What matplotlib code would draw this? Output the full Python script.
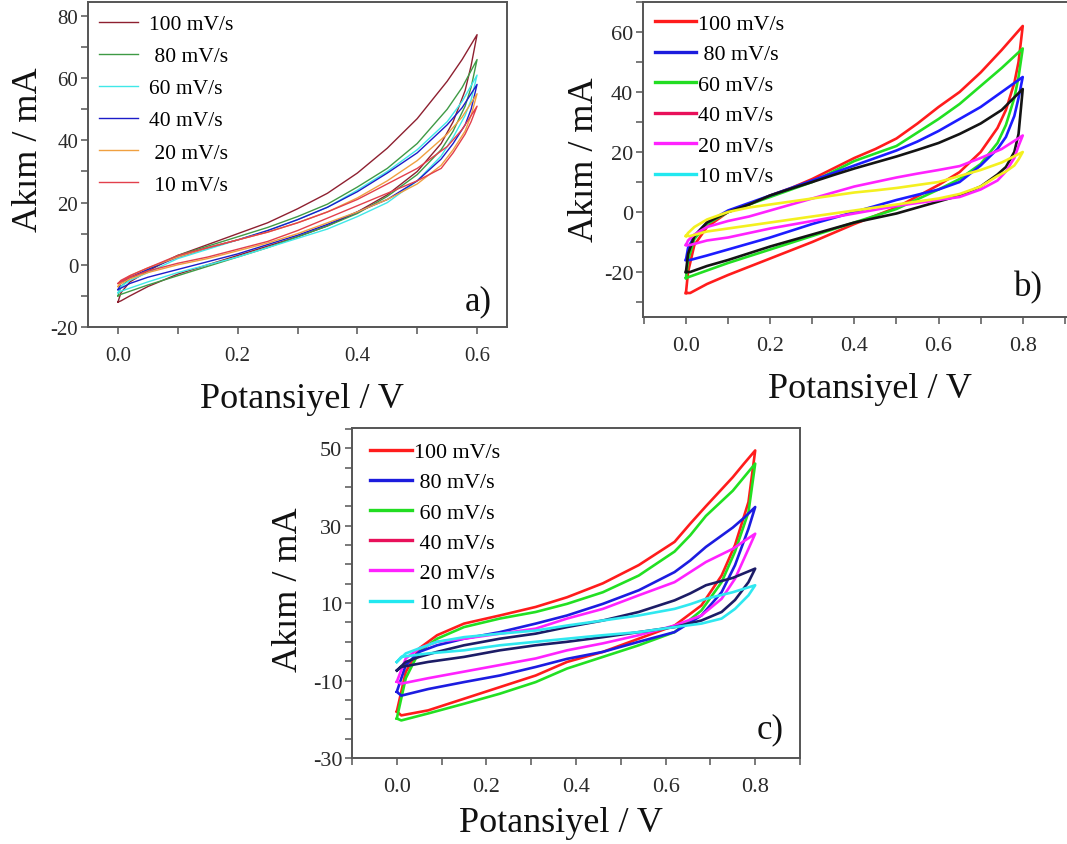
import numpy as np
import matplotlib
matplotlib.use("Agg")
import matplotlib.pyplot as plt
from matplotlib.lines import Line2D
from matplotlib.ticker import MultipleLocator

plt.rcParams['font.family'] = ['Liberation Serif', 'DejaVu Serif']

#   Scan rates shown in every legend
rates = ["100 mV/s", " 80 mV/s", "60 mV/s", "40 mV/s", " 20 mV/s", " 10 mV/s"]

### Panel a) : potential 0 - 0.6 V
a_x_up = [0.0, 0.005, 0.02, 0.05, 0.1, 0.15, 0.2, 0.25, 0.3, 0.35, 0.4, 0.45, 0.5, 0.55, 0.575, 0.6]
a_x_down = [0.6, 0.59, 0.58, 0.56, 0.54, 0.5, 0.45, 0.4, 0.35, 0.3, 0.25, 0.2, 0.15, 0.1, 0.05, 0.02, 0.005]
a_up = [
    [-12, -9, -5.5, -2, 3, 6.5, 10, 13.5, 18, 23, 29.5, 37.5, 47, 59, 66, 74],
    [-10, -7, -4.5, -1.5, 3, 6, 9, 12, 15.5, 19.5, 25, 31, 39, 50, 57, 66],
    [-9, -7, -5, -2.5, 2, 5, 8, 11, 14.5, 18.5, 24, 30, 37, 46, 52.5, 61],
    [-8, -6, -4, -1.5, 2.5, 5.5, 8, 11, 14.5, 18.5, 23.5, 29.5, 36, 45, 50.5, 58],
    [-7, -5.5, -3.5, -1, 2.5, 5.5, 8, 10.5, 13.5, 17, 21.5, 27, 33.5, 42, 47.5, 55],
    [-6, -5, -3.5, -1, 3, 5.5, 8, 10.5, 13.5, 17, 21, 26, 31, 38, 43.5, 51],
]
a_down = [
    [74, 64, 56, 46, 39, 30, 22.5, 17, 12.5, 9, 6, 3, 0, -3, -7, -10, -11.6],
    [66, 57, 51, 43, 37, 29, 22, 16.5, 12.5, 9, 5.5, 2.5, -0.5, -3.5, -6.5, -8.5, -9.5],
    [61, 53, 48, 41, 35, 27, 20, 15.5, 11.5, 8.5, 5.5, 2.5, 0, -2.5, -5.5, -7.5, -8.5],
    [58, 50, 45, 39, 34, 27, 21, 17, 13, 9.5, 6.5, 3.5, 1, -1.5, -4, -6, -7.5],
    [55, 48, 43, 37, 32, 26, 21, 17, 13.5, 10, 7, 4.5, 2, 0, -2.5, -4.5, -6],
    [51, 46, 42, 36, 31, 27, 23, 19, 15, 11, 7.5, 5, 2.5, 0.5, -2, -4, -5.5],
]
a_colors = ["#8e2030", "#3f9a45", "#40e8e8", "#1c1cc8", "#f0a040", "#e2404c"]

### Panel b) : potential 0 - 0.8 V
b_x_up = [0.0, 0.005, 0.02, 0.05, 0.1, 0.15, 0.2, 0.25, 0.3, 0.35, 0.4, 0.45, 0.5, 0.55,
          0.6, 0.65, 0.7, 0.75, 0.8]
b_x_down = [0.8, 0.79, 0.78, 0.76, 0.74, 0.7, 0.65, 0.6, 0.5, 0.4, 0.3, 0.2, 0.1, 0.05, 0.01]
b_up = [
    [-27, -20, -11, -5, 0, 2.5, 5.5, 8, 11, 14.5, 18, 21, 24.5, 29.5, 35, 40, 46.5, 54, 62],
    [-22, -16, -9, -4, 0, 2.5, 5, 7.5, 10, 13.5, 17, 19.5, 22, 26.5, 31, 36, 42, 48, 54.5],
    [-16, -12, -8, -3.5, 0.5, 3, 5.5, 8, 10.5, 13, 15.5, 18, 20.5, 23.5, 27, 31, 35, 40, 45],
    [-20, -14, -8, -3.5, 0, 2.5, 5.5, 7.8, 10, 12.3, 14.5, 16.5, 18.5, 20.7, 23, 26, 29.5, 34, 41],
    [-11, -9.5, -7.5, -5, -3, -1.5, 0.5, 2.5, 4.5, 6.5, 8.5, 10, 11.5, 12.8, 14, 15.3, 18, 21, 25.5],
    [-8, -7, -5, -2.5, 0, 1.5, 2.5, 3.5, 4.5, 5.5, 6.5, 7.2, 8, 9, 10, 12, 14, 16.5, 20],
]
b_down = [
    [62, 50, 43, 34, 28, 20, 13.3, 9, 1.5, -4, -10, -15.5, -21, -24, -27],
    [54.5, 45, 38, 29, 23, 16, 11, 7.5, 1, -3.5, -8, -12.5, -17, -19.5, -21.5],
    [45, 38, 32, 25, 21, 15.5, 10, 7.5, 4, 0, -4, -8.5, -12.5, -14.5, -16],
    [41, 26, 20, 15, 12.5, 8.5, 5.5, 3.5, -0.5, -3.5, -7.5, -11.5, -16, -18, -20],
    [25.5, 22, 18, 13.5, 10.5, 7.5, 5, 4, 2, -0.5, -3, -5.5, -8.5, -9.5, -11],
    [20, 17.5, 15.5, 13.5, 12, 8.5, 6, 4.5, 2.5, 0.5, -1.5, -3.5, -5.5, -6.5, -8],
]
b_colors = ["#ff1c1c", "#22e022", "#1c1cff", "#141414", "#ff22ff", "#f4f020"]
b_legend_colors = ["#ff1c1c", "#1c1cdd", "#22dd22", "#e8105a", "#ff22ff", "#22e8f0"]

### Panel c) : potential 0 - 0.8 V
c_x_up = [0.0, 0.02, 0.05, 0.09, 0.15, 0.23, 0.31, 0.38, 0.46, 0.54, 0.62, 0.655, 0.69, 0.75, 0.775, 0.8]
c_x_down = [0.8, 0.785, 0.755, 0.725, 0.68, 0.62, 0.54, 0.46, 0.38, 0.31, 0.23, 0.15, 0.07, 0.01]
c_up = [
    [-18, -7.8, -1.7, 1.7, 4.7, 6.8, 9, 11.5, 15.1, 19.8, 25.8, 30.5, 35, 42.5, 46, 49.4],
    [-19.8, -9.4, -2.5, 0.8, 3.8, 6, 7.7, 9.8, 12.8, 17.1, 23.3, 27.5, 32.5, 39, 42.5, 46],
    [-12.9, -6, -2.6, -0.9, 0.8, 2.5, 4.7, 6.8, 9.8, 13.3, 18, 21, 24.5, 29.5, 32, 34.8],
    [-10.3, -4.3, -1.7, 0, 0.8, 2.1, 3.4, 6, 8.5, 12, 15.4, 18, 20.6, 24, 26, 27.9],
    [-7.4, -5.2, -3.9, -2.6, -0.9, 0.8, 2.1, 3.8, 5.5, 7.7, 10.7, 12.5, 14.6, 16.5, 17.7, 18.9],
    [-5.2, -3, -1.7, 0, 1.2, 2.1, 2.9, 4.2, 5.5, 6.8, 8.5, 9.7, 11.1, 12.8, 13.7, 14.6],
]
c_down = [
    [49.4, 36.1, 25, 17.1, 9.4, 4.2, 0.8, -2.6, -5.2, -8.7, -11.7, -14.7, -17.7, -19],
    [46, 33.5, 23.3, 15.4, 8.1, 2.5, -0.9, -3.9, -6.9, -10.4, -13.4, -16, -18.5, -20.3],
    [34.8, 29.2, 19.8, 12.8, 6.8, 2.5, 0, -2.6, -4.4, -6.5, -8.7, -10.4, -12.2, -13.9],
    [27.9, 24, 16.3, 11.1, 6.8, 4.2, 1.7, -0.4, -2.2, -4.3, -6, -7.7, -9.4, -10.8],
    [18.9, 15.4, 10.8, 7.7, 5.5, 3.8, 2.5, 1.2, 0, -0.9, -2.2, -3.9, -5.2, -6.5],
    [14.6, 12, 8.5, 6, 4.7, 3.8, 2.5, 1.7, 0.8, 0, -0.9, -2.2, -3, -3.9],
]
c_colors = ["#ff1c1c", "#22e022", "#1c1ce0", "#ff22ff", "#1c1c66", "#30e8f0"]
c_legend_colors = ["#ff1c1c", "#1c1cdd", "#22dd22", "#e8105a", "#ff22ff", "#22e8f0"]

W, H = 1067, 845


def box(left, top, right, bottom):
    #   Axes rectangle from pixel edges
    return [left / W, 1 - bottom / H, (right - left) / W, (bottom - top) / H]


def loop(ax, x_up, x_down, up, down, color, lw, label=None):
    #   One closed CV loop: anodic branch, cathodic branch, back to start
    xs = list(x_up) + list(x_down) + [x_up[0]]
    ys = list(up) + list(down) + [up[0]]
    ax.plot(xs, ys, color=color, lw=lw, label=label, solid_joinstyle="round")


def style(ax, xlim, ylim, ymajor, yminor, lsize):
    ax.set_xlim(*xlim)
    ax.set_ylim(*ylim)
    ax.xaxis.set_major_locator(MultipleLocator(0.2))
    ax.xaxis.set_minor_locator(MultipleLocator(0.1))
    ax.yaxis.set_major_locator(MultipleLocator(ymajor))
    ax.yaxis.set_minor_locator(MultipleLocator(yminor))
    ax.xaxis.set_major_formatter(lambda v, p: "%.1f" % v)
    ax.yaxis.set_major_formatter(lambda v, p: "%d" % round(v))
    ax.tick_params(which="both", direction="out", length=5, width=1.1,
                   color="#555555", labelcolor="#2a2a2a", labelsize=lsize)
    ax.tick_params(axis="x", pad=9)
    ax.tick_params(axis="y", pad=2)
    for s in ax.spines.values():
        s.set_color("#555555")
        s.set_linewidth(1.4)


fig = plt.figure(figsize=(W / 100, H / 100), dpi=100)

#   ---- a)
ax_a = fig.add_axes(box(88, 3, 507, 328))
for i in range(6):
    loop(ax_a, a_x_up, a_x_down, a_up[i], a_down[i], a_colors[i], 1.0, rates[i])
style(ax_a, (-0.05, 0.65), (-20, 84.5), 20, 10, 15)
ax_a.set_yticks(np.arange(-20, 81, 20))
ax_a.legend(loc="upper left", bbox_to_anchor=((99 - 88) / 419, 0.963), frameon=False,
            fontsize=15.5, handlelength=1.8, handletextpad=0.5, labelspacing=0.56,
            borderpad=0, borderaxespad=0)

#   ---- b)
ax_b = fig.add_axes(box(643, 3, 1072, 318))
for i in range(6):
    loop(ax_b, b_x_up, b_x_down, b_up[i], b_down[i], b_colors[i], 1.9)
style(ax_b, (-0.102, 0.917), (-35, 70), 20, 10, 16)
ax_b.set_yticks(np.arange(-20, 61, 20))
hb = [Line2D([], [], color=c, lw=2.4) for c in b_legend_colors]
ax_b.legend(hb, ["100 mV/s", " 80 mV/s", "60 mV/s", "40 mV/s", "20 mV/s", "10 mV/s"],
            loc="upper left", bbox_to_anchor=((655 - 643) / 429, 0.963), frameon=False,
            fontsize=15.8, handlelength=1.85, handletextpad=0.1, labelspacing=0.46,
            borderpad=0, borderaxespad=0)

#   ---- c)
ax_c = fig.add_axes(box(352, 429, 800, 759))
for i in range(6):
    loop(ax_c, c_x_up, c_x_down, c_up[i], c_down[i], c_colors[i], 1.9)
style(ax_c, (-0.1, 0.9), (-30, 55.2), 20, 5, 16)
ax_c.set_yticks(np.arange(-30, 51, 20))
hc = [Line2D([], [], color=c, lw=2.4) for c in c_legend_colors]
ax_c.legend(hc, ["100 mV/s", " 80 mV/s", " 60 mV/s", " 40 mV/s", " 20 mV/s", " 10 mV/s"],
            loc="upper left", bbox_to_anchor=((370 - 352) / 448, 0.958), frameon=False,
            fontsize=15.8, handlelength=1.9, handletextpad=0.1, labelspacing=0.45,
            borderpad=0, borderaxespad=0)

#   Axis titles and panel letters, placed in figure pixels
lab = dict(fontsize=26, color="#111111")
for cx, base in [(302, 408), (870, 398), (561, 832)]:
    fig.text(cx / W, 1 - base / H, "Potansiyel / V", ha="center", va="baseline", **lab)
for bx, cy in [(37, 150), (593, 160), (297, 590)]:
    fig.text(bx / W, 1 - cy / H, "Akım / mA", ha="center", va="baseline", rotation=90,
             rotation_mode="anchor", **lab)
for tx, ty, t in [(492, 310, "a)"), (1043, 296, "b)"), (784, 738, "c)")]:
    fig.text(tx / W, 1 - ty / H, t, ha="right", va="baseline", fontsize=25, color="#111111")

fig.savefig("out.png", dpi=100)
